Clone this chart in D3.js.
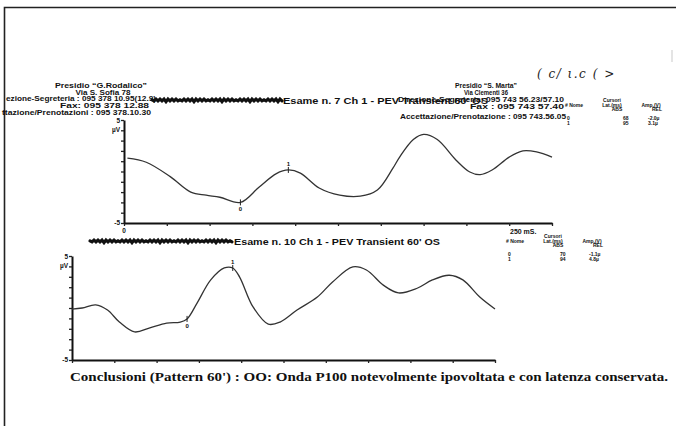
<!DOCTYPE html>
<html>
<head>
<meta charset="utf-8">
<script src="https://d3js.org/d3.v7.min.js"></script>
<style>
  body { margin: 0; background: #fff; }
  svg { display: block; }
  .hdr { font-family: "Liberation Sans", Arial, sans-serif; font-weight: bold; fill: #111; }
  .ser { font-family: "Liberation Serif", "Times New Roman", serif; font-weight: bold; fill: #111; }
</style>
</head>
<body>
<div id="chart"></div>
<script>
// waveform 1: Esame n. 7 (ms, µV)
const topMs = [2, 13, 27, 39, 48, 56, 68, 79, 89, 96, 103, 114, 126, 138, 148, 157, 161, 169, 175, 183, 194, 202, 208, 215, 225, 233, 241, 250];
const topUv = [1.3, 0.9, -0.5, -2.0, -2.3, -2.5, -3.0, -1.5, -0.2, 0.15, -0.15, -1.6, -2.3, -2.4, -1.8, 0.3, 1.4, 3.1, 3.6, 3.1, 1.1, -0.05, -0.3, 0.15, 1.4, 2.0, 1.9, 1.4];
// waveform 2: Esame n. 10 (ms, µV)
const botMs = [0, 6, 14, 21, 28, 37, 46, 56, 64, 68, 74, 82, 90, 95, 99, 107, 116, 123, 133, 145, 154, 166, 174, 184, 193, 204, 213, 223, 231, 241, 250];
const botUv = [-0.1, 0.0, 0.3, -0.2, -1.35, -2.3, -1.9, -1.45, -1.35, -1.05, 0.5, 2.7, 3.85, 3.85, 3.0, 0.1, -1.55, -1.35, -0.2, 1.05, 2.5, 3.95, 3.65, 2.2, 1.45, 1.9, 2.7, 3.15, 2.7, 1.05, -0.1];

const topCursors = [{ name: "0", ms: 68, up: false }, { name: "1", ms: 96, up: true }];
const botCursors = [{ name: "0", ms: 68, up: false }, { name: "1", ms: 95, up: true }];

const xTicks = d3.range(0, 251, 25);
const yTicks = d3.range(-5, 6, 1);

const W = 676, H = 426;
const svg = d3.select("#chart").append("svg").attr("width", W).attr("height", H);

// scanned page frame
svg.append("path").attr("d", "M4.5,426 L4.5,7.5 L676,7.5")
  .attr("fill", "none").attr("stroke", "#222").attr("stroke-width", 1.6);
svg.append("line").attr("x1", 672).attr("x2", 672).attr("y1", 50).attr("y2", 62)
  .attr("stroke", "#e4e4e4").attr("stroke-width", 2);

function txt(x, y, s, size, anchor, len, cls) {
  const t = svg.append("text").attr("class", cls || "hdr").attr("x", x).attr("y", y)
    .attr("font-size", size).attr("text-anchor", anchor || "start").text(s);
  if (len) t.attr("textLength", len).attr("lengthAdjust", "spacingAndGlyphs");
  return t;
}

// left letterhead
txt(101, 88, "Presidio \u201cG.Rodalico\u201d", 7.5, "middle", 92);
txt(103, 94.5, "Via S. Sofia 78", 7, "middle", 55);
txt(6, 101, "ezione-Segreteria : 095 378 10.95(12.9)", 7, "start", 150);
txt(60, 108, "Fax: 095 378 12.88", 7, "start", 89);
txt(2, 115, "ttazione/Prenotazioni : 095 378.10.30", 7, "start", 149);

// right letterhead
txt(486, 88, "Presidio \u201cS. Marta\u201d", 6.5, "middle", 62);
txt(486, 94.5, "Via Clementi 36", 6.5, "middle", 44);
txt(398, 101.5, "Direzione-Segreteria: 095 743 56.23/57.10", 7, "start", 166);
txt(470, 108.5, "Fax : 095 743 57.40", 7, "start", 94);
txt(400, 118.5, "Accettazione/Prenotazione : 095 743.56.05", 7, "start", 166);
svg.append("text").attr("x", 537).attr("y", 78).attr("font-size", 12)
  .attr("font-family", "DejaVu Serif").attr("font-style", "italic").attr("fill", "#222")
  .attr("letter-spacing", 1.5).text("( c/ ι.c ( >");

// redaction scribbles
function scribble(x0, x1, y) {
  const pts = d3.range(x0, x1 + 1, 2).map((x, i) => [x, y + (i % 2 ? 0.9 : -0.9) + (i % 7 === 0 ? 0.8 : 0)]);
  svg.append("path").attr("d", d3.line()(pts)).attr("fill", "none")
    .attr("stroke", "#111").attr("stroke-width", 3.2).attr("stroke-linecap", "round");
}
scribble(152, 282, 100);
scribble(90, 232, 241);

txt(283, 103.5, "Esame n.  7 Ch 1 - PEV Transient 60' OS", 8.5, "start", 205);
txt(234, 244.5, "Esame n.  10 Ch 1 - PEV Transient 60' OS", 8.5, "start", 206);

// cursor tables
function table(x, y) {
  txt(x + 47, y, "Cursori", 5, "middle");
  txt(x, y + 4.5, "# Nome", 5);
  txt(x + 47, y + 4.5, "Lat.(ms)", 5, "middle");
  txt(x + 86, y + 4.5, "Amp.(V)", 5, "middle");
  txt(x + 52, y + 9, "ABS", 5, "middle");
  txt(x + 92, y + 9, "REL", 5, "middle");
}
table(565, 102);
txt(567, 120, "0", 5); txt(623, 120, "68", 5); txt(648, 120, "-2.0\u00b5", 5);
txt(567, 125, "1", 5); txt(623, 125, "95", 5); txt(648, 125, "3.1\u00b5", 5);

table(506, 238);
txt(508, 256, "0", 5); txt(560, 256, "70", 5); txt(589, 256, "-1.1\u00b5", 5);
txt(508, 261, "1", 5); txt(560, 261, "94", 5); txt(589, 261, "4.8\u00b5", 5);

// one waveform panel
function panel(ms, uv, cursors, xr, yr, showZero) {
  const x = d3.scaleLinear().domain([0, 250]).range(xr);
  const y = d3.scaleLinear().domain([-5, 5]).range(yr);
  const g = svg.append("g");

  g.append("g").attr("transform", `translate(0,${yr[0]})`)
    .call(d3.axisBottom(x).tickValues(xTicks).tickSize(3).tickSizeOuter(0).tickFormat(""))
    .call(a => a.select(".domain").attr("stroke", "#111").attr("stroke-width", 2))
    .call(a => a.selectAll(".tick line").attr("stroke", "#222").attr("stroke-width", 1.3));

  g.append("g").attr("transform", `translate(${xr[0]},0)`)
    .call(d3.axisLeft(y).tickValues(yTicks).tickSize(3).tickSizeOuter(0).tickFormat(""))
    .call(a => a.select(".domain").attr("stroke", "#111").attr("stroke-width", 2))
    .call(a => a.selectAll(".tick line").attr("stroke", "#222").attr("stroke-width", 1.3));

  txt(xr[0] - 4, y(5) + 3, "5", 6.5, "end");
  txt(xr[0] - 4, y(-5) + 2, "-5", 6.5, "end");
  txt(xr[0] - 4, y(4) + 2, "\u00b5V", 6.5, "end");
  if (showZero) txt(x(0), yr[0] + 10, "0", 6.5, "middle");

  const pts = ms.map((m, i) => [m, uv[i]]);
  g.append("path").datum(pts)
    .attr("d", d3.line().x(d => x(d[0])).y(d => y(d[1])).curve(d3.curveCatmullRom))
    .attr("fill", "none").attr("stroke", "#333").attr("stroke-width", 1.3);

  cursors.forEach(c => {
    const i = d3.bisectLeft(ms, c.ms);
    const i0 = Math.max(1, Math.min(ms.length - 1, i));
    const t = (c.ms - ms[i0 - 1]) / (ms[i0] - ms[i0 - 1]);
    const v = uv[i0 - 1] + t * (uv[i0] - uv[i0 - 1]);
    g.append("line").attr("x1", x(c.ms)).attr("x2", x(c.ms))
      .attr("y1", y(v) - 3).attr("y2", y(v) + 3).attr("stroke", "#222").attr("stroke-width", 1);
    txt(x(c.ms), c.up ? y(v) - 4 : y(v) + 9, c.name, 6, "middle");
  });
  return { x, y };
}

panel(topMs, topUv, topCursors, [124, 552], [223, 120], true);
txt(510, 234, "250 mS.", 7);
panel(botMs, botUv, botCursors, [72, 495], [360, 256], false);

txt(70, 381, "Conclusioni (Pattern 60') : OO: Onda P100 notevolmente ipovoltata e con latenza conservata.", 12.5, "start", 598, "ser");
</script>
</body>
</html>
